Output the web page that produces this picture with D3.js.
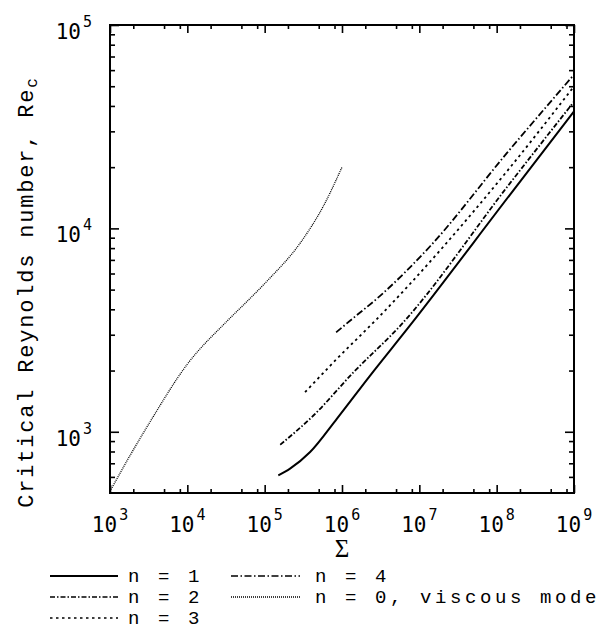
<!DOCTYPE html>
<html>
<head>
<meta charset="utf-8">
<script src="https://cdn.jsdelivr.net/npm/d3@7"></script>
<style>
body { margin: 0; background: #fff; }
</style>
</head>
<body>
<div id="chart"></div>
<script>
// tick values
const sigmaMajor = [1e3, 1e4, 1e5, 1e6, 1e7, 1e8, 1e9];
const sigmaMinorMult = [2, 5, 8];
const reMajor = [1e3, 1e4, 1e5];
const reMinorMult = [2, 3, 4, 5, 6, 7, 8, 9];

// n = 0, viscous mode
const n0Sigma = [1e3, 1.8e3, 3.3e3, 1e4, 3.26e4, 5.9e4, 1.07e5, 2.9e5, 5.7e5, 1e6];
const n0Re = [510, 760, 1120, 2150, 3500, 4370, 5500, 8500, 12800, 20000];
// n = 1
const n1Sigma = [1.5e5, 2.13e5, 3.87e5, 8.57e5, 2.31e6, 7.23e6, 1.5e8, 1e9];
const n1Re = [611, 659, 795, 1158, 1889, 3258, 14700, 37600];
// n = 2
const n2Sigma = [1.59e5, 4.27e5, 1.41e6, 5.65e6, 1.5e8, 1e9];
const n2Re = [864, 1202, 1962, 3319, 16750, 42000];
// n = 3
const n3Sigma = [3.33e5, 8.57e5, 2.82e6, 1.36e8, 1e9];
const n3Re = [1566, 2281, 3581, 19100, 49900];
// n = 4
const n4Sigma = [8.4e5, 1.27e6, 3.11e6, 1.38e7, 1.36e8, 1e9];
const n4Re = [3083, 3515, 4660, 8170, 23500, 57000];

const series = [
    {sig: n1Sigma, re: n1Re, dash: null, w: 2},
    {sig: n2Sigma, re: n2Re, dash: "5,2,1.5,2", w: 1.8},
    {sig: n3Sigma, re: n3Re, dash: "2.5,3.5", w: 1.8},
    {sig: n4Sigma, re: n4Re, dash: "7,2.5,1.5,2.5", w: 1.8},
    {sig: n0Sigma, re: n0Re, dash: "1,1", w: 1.3}
];

const legendItems = [
    {label: "n = 1", s: 0, col: 0, row: 0},
    {label: "n = 2", s: 1, col: 0, row: 1},
    {label: "n = 3", s: 2, col: 0, row: 2},
    {label: "n = 4", s: 3, col: 1, row: 0},
    {label: "n = 0, viscous mode", s: 4, col: 1, row: 1}
];

const W = 600, H = 633;
const plot = {left: 110, right: 574, top: 25, bottom: 493};

const svg = d3.select("#chart")
    .append("svg")
    .attr("width", W)
    .attr("height", H);

const x = d3.scaleLog()
    .domain([1e3, 1e9])
    .range([plot.left, plot.right]);

const y = d3.scaleLog()
    .domain([500, 1e5])
    .range([plot.bottom, plot.top]);

// minor tick values
const sigmaMinor = [];
sigmaMajor.slice(0, -1).forEach(d => sigmaMinorMult.forEach(m => sigmaMinor.push(d * m)));
const reMinor = [];
[100, 1e3, 1e4].forEach(d => reMinorMult.forEach(m => {
    const v = d * m;
    if (v > 500 && v < 1e5) reMinor.push(v);
}));

function tickAxis(axis, transform) {
    const g = svg.append("g")
        .attr("transform", transform)
        .call(axis);
    g.select(".domain").remove();
    g.selectAll("line").attr("stroke", "#000").attr("stroke-width", 1.6);
    return g;
}

// ticks point inward on all four sides
tickAxis(d3.axisBottom(x).tickValues(sigmaMajor).tickSize(-8).tickFormat(""), `translate(0,${plot.bottom})`);
tickAxis(d3.axisBottom(x).tickValues(sigmaMinor).tickSize(-4).tickFormat(""), `translate(0,${plot.bottom})`);
tickAxis(d3.axisTop(x).tickValues(sigmaMajor).tickSize(-8).tickFormat(""), `translate(0,${plot.top})`);
tickAxis(d3.axisTop(x).tickValues(sigmaMinor).tickSize(-4).tickFormat(""), `translate(0,${plot.top})`);
tickAxis(d3.axisLeft(y).tickValues(reMajor).tickSize(-9).tickFormat(""), `translate(${plot.left},0)`);
tickAxis(d3.axisLeft(y).tickValues(reMinor).tickSize(-5).tickFormat(""), `translate(${plot.left},0)`);
tickAxis(d3.axisRight(y).tickValues(reMajor).tickSize(-9).tickFormat(""), `translate(${plot.right},0)`);
tickAxis(d3.axisRight(y).tickValues(reMinor).tickSize(-5).tickFormat(""), `translate(${plot.right},0)`);

// frame
svg.append("rect")
    .attr("x", plot.left)
    .attr("y", plot.top)
    .attr("width", plot.right - plot.left)
    .attr("height", plot.bottom - plot.top)
    .attr("fill", "none")
    .attr("stroke", "#000")
    .attr("stroke-width", 2);

// tick labels 10^k
const labelFont = "'DejaVu Sans Mono', monospace";
const textFont = "'Liberation Mono', monospace";

function powLabel(sel) {
    sel.append("tspan").text("10");
    sel.append("tspan")
        .attr("dx", 2)
        .attr("dy", -12)
        .attr("font-size", 15)
        .text(d => Math.round(Math.log10(d)));
}

svg.append("g").selectAll("text")
    .data(sigmaMajor)
    .enter()
    .append("text")
    .attr("x", d => x(d))
    .attr("y", plot.bottom + 39)
    .attr("text-anchor", "middle")
    .attr("font-family", labelFont)
    .attr("font-size", 21)
    .call(powLabel);

svg.append("g").selectAll("text")
    .data(reMajor)
    .enter()
    .append("text")
    .attr("x", 92)
    .attr("y", d => y(d) + 14)
    .attr("text-anchor", "end")
    .attr("font-family", labelFont)
    .attr("font-size", 21)
    .call(powLabel);

// axis titles
svg.append("text")
    .attr("x", (plot.left + plot.right) / 2)
    .attr("y", 557)
    .attr("text-anchor", "middle")
    .attr("font-family", "'Liberation Serif', serif")
    .attr("font-size", 25)
    .text("Σ");

const yTitle = svg.append("text")
    .attr("transform", "translate(33,292) rotate(-90)")
    .attr("text-anchor", "middle")
    .attr("font-family", textFont)
    .attr("font-size", 22)
    .attr("letter-spacing", 1.8);
yTitle.append("tspan").text("Critical Reynolds number, Re");
yTitle.append("tspan").attr("dy", 4).attr("font-size", 16).text("c");

// curves
const line = d3.line()
    .x(d => x(d[0]))
    .y(d => y(d[1]))
    .curve(d3.curveMonotoneX);

series.forEach(s => {
    svg.append("path")
        .datum(d3.zip(s.sig, s.re))
        .attr("fill", "none")
        .attr("stroke", "#000")
        .attr("stroke-width", s.w)
        .attr("stroke-dasharray", s.dash)
        .attr("d", line);
});

// legend
const legX = [[50, 118, 128], [231, 300, 315]];
const legY = [576, 597, 618];

const leg = svg.append("g");
legendItems.forEach(item => {
    const s = series[item.s];
    const [x0, x1, tx] = legX[item.col];
    const ly = legY[item.row];
    leg.append("line")
        .attr("x1", x0)
        .attr("x2", x1)
        .attr("y1", ly)
        .attr("y2", ly)
        .attr("stroke", "#000")
        .attr("stroke-width", item.s === 0 ? 2 : 1.5)
        .attr("stroke-dasharray", s.dash);
    leg.append("text")
        .attr("x", tx)
        .attr("y", ly + 6)
        .attr("font-family", textFont)
        .attr("font-size", 19)
        .attr("letter-spacing", 3.6)
        .text(item.label);
});
</script>
</body>
</html>
